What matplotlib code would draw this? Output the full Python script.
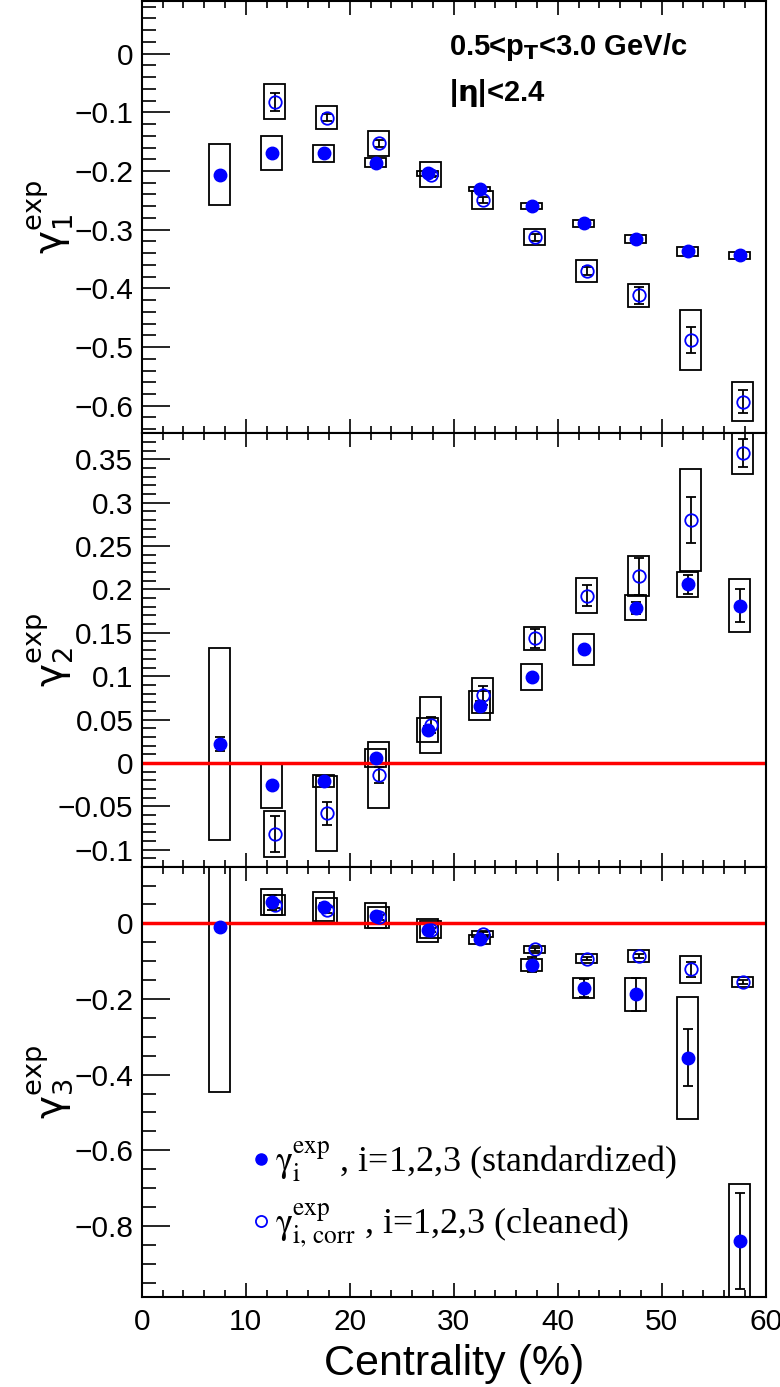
import matplotlib
matplotlib.use('Agg')
import matplotlib.pyplot as plt
from matplotlib.patches import Rectangle
from matplotlib.lines import Line2D
from matplotlib.ticker import MultipleLocator, FuncFormatter

# centrality bin centres
cent = [7.5, 12.5, 17.5, 22.5, 27.5, 32.5, 37.5, 42.5, 47.5, 52.5, 57.5]
cent_corr = [12.5, 17.5, 22.5, 27.5, 32.5, 37.5, 42.5, 47.5, 52.5, 57.5]

# gamma_1
g1_std = [-0.206, -0.169, -0.170, -0.186, -0.204, -0.230, -0.259, -0.289, -0.316, -0.337, -0.344]
g1_std_stat = [0.003, 0.003, 0.003, 0.003, 0.003, 0.003, 0.003, 0.003, 0.003, 0.003, 0.003]
g1_std_sys = [0.0515, 0.029, 0.015, 0.0075, 0.004, 0.0035, 0.005, 0.006, 0.007, 0.0075, 0.006]
g1_corr = [-0.082, -0.109, -0.153, -0.206, -0.249, -0.313, -0.370, -0.412, -0.488, -0.593]
g1_corr_stat = [0.015, 0.006, 0.006, 0.005, 0.005, 0.006, 0.007, 0.015, 0.022, 0.020]
g1_corr_sys = [0.0295, 0.020, 0.0215, 0.0205, 0.0155, 0.0135, 0.019, 0.0195, 0.051, 0.0335]

# gamma_2
g2_std = [0.022, -0.026, -0.021, 0.0055, 0.038, 0.066, 0.099, 0.131, 0.179, 0.206, 0.181]
g2_std_stat = [0.008, 0.004, 0.004, 0.004, 0.005, 0.005, 0.004, 0.004, 0.007, 0.011, 0.019]
g2_std_sys = [0.111, 0.026, 0.007, 0.0105, 0.014, 0.017, 0.0145, 0.018, 0.0145, 0.0145, 0.0305]
g2_corr = [-0.082, -0.058, -0.014, 0.044, 0.078, 0.1436, 0.193, 0.215, 0.280, 0.357]
g2_corr_stat = [0.021, 0.013, 0.009, 0.009, 0.011, 0.011, 0.012, 0.021, 0.026, 0.016]
g2_corr_sys = [0.026, 0.043, 0.038, 0.032, 0.020, 0.0135, 0.0205, 0.023, 0.059, 0.0235]

# gamma_3
g3_std = [-0.009, 0.0556, 0.044, 0.020, -0.0185, -0.042, -0.109, -0.171, -0.188, -0.355, -0.840]
g3_std_stat = [0.005, 0.020, 0.010, 0.008, 0.008, 0.008, 0.020, 0.024, 0.043, 0.075, 0.126]
g3_std_sys = [0.438, 0.034, 0.039, 0.033, 0.030, 0.0125, 0.016, 0.027, 0.043, 0.1615, 0.152]
g3_corr = [0.0476, 0.035, 0.016, -0.017, -0.028, -0.069, -0.093, -0.086, -0.122, -0.155]
g3_corr_stat = [0.008, 0.008, 0.006, 0.006, 0.005, 0.005, 0.005, 0.005, 0.020, 0.005]
g3_corr_sys = [0.0265, 0.033, 0.0275, 0.0225, 0.0085, 0.009, 0.013, 0.016, 0.036, 0.012]

x_ticks = [0, 10, 20, 30, 40, 50, 60]

BLUE = '#0000ff'
SHIFT = 0.3
BOX_HW = 1.0

plt.rcParams['font.family'] = ['Liberation Sans', 'DejaVu Sans']
plt.rcParams['axes.linewidth'] = 1.5

fig = plt.figure(figsize=(7.8, 13.87), dpi=100)
L, W = 0.1817, 0.8


def fmt(v, pos):
    s = '%g' % round(v, 6)
    if s == '-0':
        s = '0'
    return s.replace('-', '\u2212')


def boxes(ax, xs, ys, sys, dx=0.0):
    for x, y, s in zip(xs, ys, sys):
        ax.add_patch(Rectangle((x + dx - BOX_HW, y - s), 2 * BOX_HW, 2 * s,
                               fill=False, edgecolor='black', lw=1.3, zorder=2))


def panel(ax, std, std_stat, std_sys, corr, corr_stat, corr_sys):
    boxes(ax, cent, std, std_sys)
    boxes(ax, cent_corr, corr, corr_sys, SHIFT)
    xc = [c + SHIFT for c in cent_corr]
    ax.errorbar(xc, corr, yerr=corr_stat, fmt='o', ms=9, mfc='none', mec=BLUE,
                mew=1.3, ecolor='black', elinewidth=1.3, capsize=3.5, capthick=1.3,
                zorder=3)
    ax.errorbar(cent, std, yerr=std_stat, fmt='o', ms=9, mfc=BLUE, mec=BLUE,
                ecolor='black', elinewidth=1.3, capsize=3.5, capthick=1.3, zorder=4)
    ax.set_xlim(0, 60)
    ax.xaxis.set_major_locator(MultipleLocator(10))
    ax.xaxis.set_minor_locator(MultipleLocator(2))
    ax.yaxis.set_major_formatter(FuncFormatter(fmt))
    ax.tick_params(axis='x', which='major', direction='in', top=True, length=10, width=1.2)
    ax.tick_params(axis='x', which='minor', direction='in', top=True, length=5, width=1.2)
    ax.tick_params(axis='y', which='major', direction='in', right=False, length=20,
                   width=1.2, labelsize=21.5, pad=6)
    ax.tick_params(axis='y', which='minor', direction='in', right=False, length=10, width=1.2)


ax1 = fig.add_axes([L, 0.6876, W, 0.3114])
ax2 = fig.add_axes([L, 0.3749, W, 0.3127])
ax3 = fig.add_axes([L, 0.0649, W, 0.3100])

panel(ax1, g1_std, g1_std_stat, g1_std_sys, g1_corr, g1_corr_stat, g1_corr_sys)
ax1.set_ylim(-0.647, 0.089)
ax1.yaxis.set_major_locator(MultipleLocator(0.1))
ax1.yaxis.set_minor_locator(MultipleLocator(0.02))
ax1.tick_params(axis='x', labelbottom=False)

panel(ax2, g2_std, g2_std_stat, g2_std_sys, g2_corr, g2_corr_stat, g2_corr_sys)
ax2.set_ylim(-0.12, 0.38)
ax2.yaxis.set_major_locator(MultipleLocator(0.05))
ax2.yaxis.set_minor_locator(MultipleLocator(0.01))
ax2.tick_params(axis='x', labelbottom=False)
ax2.axhline(0, color='red', lw=2.5, zorder=2.5)

panel(ax3, g3_std, g3_std_stat, g3_std_sys, g3_corr, g3_corr_stat, g3_corr_sys)
ax3.set_ylim(-0.988, 0.149)
ax3.yaxis.set_major_locator(MultipleLocator(0.2))
ax3.yaxis.set_minor_locator(MultipleLocator(0.05))
ax3.axhline(0, color='red', lw=2.5, zorder=2.5)
ax3.set_xticks(x_ticks)
ax3.set_xticklabels([str(t) for t in x_ticks])
ax3.tick_params(axis='x', labelsize=21.5, pad=8)
ax3.set_xlabel('Centrality (%)', fontsize=31, labelpad=6)

ylabels = [r'$\mathrm{\gamma}_1^{\rm exp}$', r'$\mathrm{\gamma}_2^{\rm exp}$',
           r'$\mathrm{\gamma}_3^{\rm exp}$']
for ax, lab in zip([ax1, ax2, ax3], ylabels):
    ax.set_ylabel(lab, fontsize=28, math_fontfamily='dejavusans')
    ax.yaxis.set_label_coords(-0.105, 0.5)

ax1.text(0.493, 0.875, r'0.5<p$_{\bf T}$<3.0 GeV/c', transform=ax1.transAxes,
         fontsize=21, fontweight='bold', math_fontfamily='dejavusans')
ax1.text(0.493, 0.77, r'|$\mathbf{\eta}$|<2.4', transform=ax1.transAxes,
         fontsize=21, fontweight='bold', math_fontfamily='dejavusans')

handles = [
    Line2D([], [], ls='none', marker='o', ms=8, mfc=BLUE, mec=BLUE),
    Line2D([], [], ls='none', marker='o', ms=8, mfc='none', mec=BLUE, mew=1.3),
]
labels = [r'$\mathrm{\gamma}_{\rm i}^{\rm exp}$ , i=1,2,3 (standardized)',
          r'$\mathrm{\gamma}_{\rm i,\,corr}^{\rm exp}$ , i=1,2,3 (cleaned)']
leg = ax3.legend(handles, labels, loc='upper left', bbox_to_anchor=(0.15, 0.40),
                 frameon=False, handlelength=0.6, handletextpad=0.1,
                 labelspacing=0.5, borderaxespad=0,
                 prop={'family': 'Liberation Serif', 'size': 26})
for t in leg.get_texts():
    t.set_math_fontfamily('stix')

fig.savefig('out.png', dpi=100)
